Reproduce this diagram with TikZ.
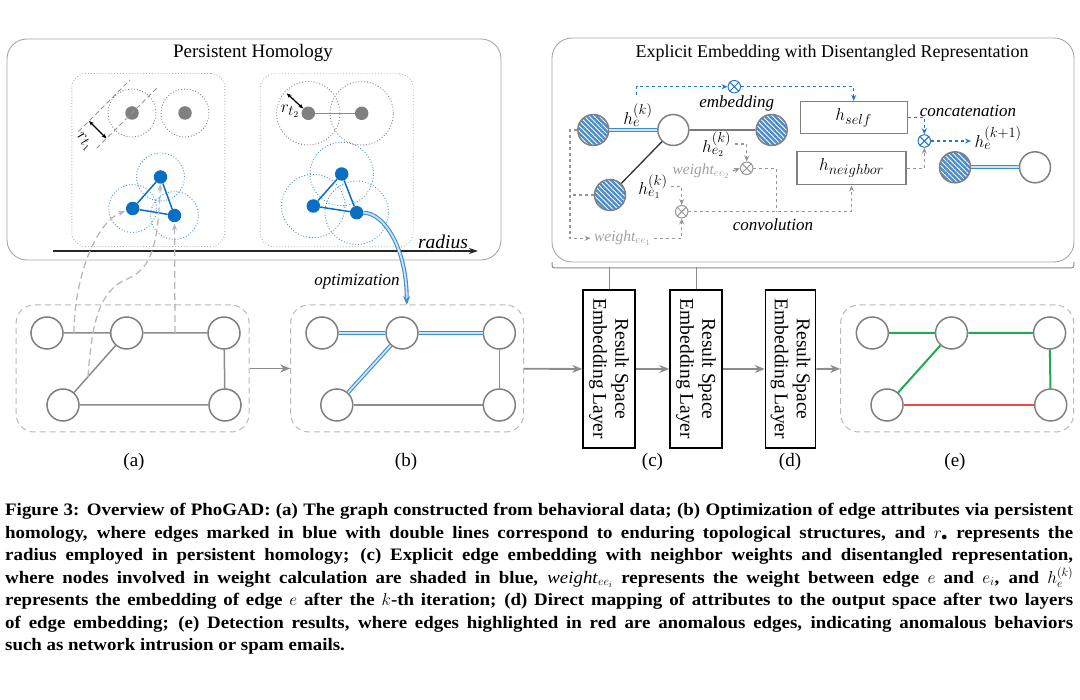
\documentclass[tikz,border=0pt]{standalone}
\usepackage{fontspec}
\setmainfont{Liberation Serif}
\newfontfamily\capfont[FakeStretch=1.08]{Liberation Serif}
\usetikzlibrary{arrows.meta,patterns.meta,calc}
\definecolor{nodegray}{RGB}{128,128,128}
\definecolor{edgegray}{RGB}{140,140,140}
\definecolor{boxgray}{RGB}{185,185,185}
\definecolor{dotblue}{RGB}{10,110,195}
\definecolor{haloblue}{RGB}{70,145,210}
\definecolor{hatchblue}{RGB}{75,140,205}
\definecolor{dblblue}{RGB}{60,140,210}
\definecolor{dblfill}{RGB}{205,228,246}
\definecolor{dashblue}{RGB}{30,120,200}
\definecolor{dashgray}{RGB}{150,150,150}
\definecolor{labelgray}{RGB}{160,160,160}
\definecolor{okgreen}{RGB}{30,170,80}
\definecolor{badred}{RGB}{240,70,70}

\begin{document}
\begin{tikzpicture}[x=1pt,y=-1pt]
\tikzset{
	panel/.style = {draw=black!35, line width=0.9pt, rounded corners=20pt},
	subpanel/.style = {draw=black!30, dotted, line width=0.9pt, rounded corners=14pt, minimum width=153pt, minimum height=173pt},
	graphbox/.style = {draw=boxgray, dash pattern=on 6pt off 4pt, line width=1pt, rounded corners=18pt, minimum width=233pt, minimum height=127pt},
	vertex/.style = {circle, draw=nodegray, line width=1.5pt, fill=white, minimum size=32pt, inner sep=0},
	emptyv/.style = {vertex, minimum size=31pt},
	shadedv/.style = {circle, draw=nodegray, line width=1.5pt, minimum size=31pt, inner sep=0, preaction={fill=hatchblue}, pattern={Lines[angle=-45,distance=3.5pt,line width=0.9pt]}, pattern color=white},
	graydot/.style = {circle, fill=nodegray, minimum size=13.5pt, inner sep=0},
	bluedot/.style = {circle, fill=dotblue, minimum size=13.5pt, inner sep=0},
	halo/.style = {dotted, line width=0.9pt},
	gline/.style = {draw=edgegray, line width=1.5pt},
	dbl/.style = {draw=dblblue, double=dblfill, double distance=1.8pt, line width=1.1pt},
	flow/.style = {draw=edgegray, line width=1.8pt, -{Stealth[length=10pt,width=8pt]}},
	layerbox/.style = {draw, line width=1.5pt, rotate=-90, minimum width=158pt, minimum height=52pt, align=center, font=\fontsize{19.5}{22}\selectfont},
	mul/.style = {circle, draw, line width=1pt, fill=white, minimum size=12.5pt, inner sep=0},
	bluedash/.style = {draw=dashblue, dashed, line width=1.1pt, -{Stealth[length=6pt,width=5pt]}},
	graydash/.style = {draw=dashgray, dashed, line width=1.1pt, -{Stealth[length=6pt,width=5pt]}},
	tracearrow/.style = {draw=boxgray, dash pattern=on 7pt off 4pt, line width=1.3pt, -{Stealth[length=7pt,width=5pt]}},
	measure/.style = {draw=black, line width=1.3pt, {Stealth[length=5pt,width=4pt]}-{Stealth[length=5pt,width=4pt]}},
	ptitle/.style = {font=\fontsize{19}{21}\selectfont},
	itnote/.style = {font=\fontsize{17}{19}\selectfont\itshape},
	mlabel/.style = {font=\fontsize{19}{21}\selectfont},
	wlabel/.style = {text=labelgray, font=\fontsize{15.5}{17}\selectfont\itshape},
	sublabel/.style = {font=\fontsize{19}{21}\selectfont},
	bracket/.style = {draw=black!45, line width=1pt}
}
\useasboundingbox (0,0) rectangle (1080,700);

% persistent homology
\node[panel, minimum width=494pt, minimum height=221pt] (ph) at (254,149.5) {};
\node[ptitle] (phtitle) at (253,53) {Persistent Homology};
\node[subpanel] (sp1) at (148.3,160) {};
\node[subpanel] (sp2) at (336.7,160.3) {};

\node[graydot] (g1) at (132,113) {};
\node[graydot] (g2) at (185,113) {};
\draw[halo, draw=nodegray] (g1) circle[radius=24pt] (g2) circle[radius=24pt];
\draw[draw=dashgray, dash pattern=on 5pt off 3pt, line width=0.8pt] (78.3,131.7) -- (130,80) (96.7,148.3) -- (156.7,88.3);
\coordinate (m1) at (89,121);
\coordinate (m2) at (106.5,138.5);
\draw[measure] (m1) -- (m2);
\node[mlabel, rotate=-45, inner sep=0] (rt1) at (84,142) {$r_{t_1}$};

\node[bluedot] (t1) at (160.5,177) {};
\node[bluedot] (t2) at (132.7,208.5) {};
\node[bluedot] (t3) at (174.5,215.5) {};
\draw[draw=dotblue, line width=1.5pt] (t1) -- (t2) -- (t3) -- (t1);
\draw[halo, draw=haloblue] (t1) circle[radius=24pt] (t2) circle[radius=24pt] (t3) circle[radius=24pt];

\node[graydot] (g3) at (308.3,113.3) {};
\node[graydot] (g4) at (361.7,113.3) {};
\draw[gline] (g3) -- (g4);
\draw[halo, draw=nodegray] (g3) circle[radius=31.7pt] (g4) circle[radius=31.7pt];
\coordinate (rt2a) at (286.7,93.3);
\draw[measure] (rt2a) -- (g3);
\node[mlabel, inner sep=0] (rt2) at (290,111) {$r_{t_2}$};

\node[bluedot] (u1) at (341.7,174) {};
\node[bluedot] (u2) at (313.3,206) {};
\node[bluedot] (u3) at (356.7,212.7) {};
\draw[draw=dotblue, line width=1.5pt] (u1) -- (u2) -- (u3) -- (u1);
\draw[halo, draw=haloblue] (u1) circle[radius=31.7pt] (u2) circle[radius=31.7pt] (u3) circle[radius=31.7pt];

\coordinate (r0) at (53,251);
\coordinate (r1) at (478,251);
\draw[draw=black!85, line width=1.8pt, -{Stealth[length=9pt,width=6pt]}] (r0) -- (r1);
\node[font=\fontsize{19.5}{21}\selectfont\itshape] (radius) at (443,242) {radius};

% graphs
\node[graphbox] (ga) at (132.6,368.5) {};
\node[vertex] (a1) at (47,333) {};
\node[vertex] (a2) at (126.7,333) {};
\node[vertex] (a3) at (224,333) {};
\node[vertex] (a4) at (63,405) {};
\node[vertex] (a5) at (225,405) {};
\draw[gline] (a1) -- (a2) -- (a3) -- (a5) -- (a4) -- (a2);

\node[graphbox] (gb) at (407.2,368.5) {};
\node[vertex] (b1) at (322,333) {};
\node[vertex] (b2) at (402,333) {};
\node[vertex] (b3) at (499.3,333) {};
\node[vertex] (b4) at (336.8,405) {};
\node[vertex] (b5) at (499.3,405) {};
\draw[dbl] (b1) -- (b2);
\draw[dbl] (b2) -- (b3);
\draw[dbl] (b2) -- (b4);
\draw[gline] (b3) -- (b5) -- (b4);

\node[graphbox] (ge) at (957.2,368.5) {};
\node[vertex] (e1) at (872.3,333) {};
\node[vertex] (e2) at (951.5,333) {};
\node[vertex] (e3) at (1049.6,333) {};
\node[vertex] (e4) at (887,405) {};
\node[vertex] (e5) at (1050.7,405) {};
\draw[draw=okgreen, line width=2pt] (e1) -- (e2) -- (e3) -- (e5) (e2) -- (e4);
\draw[draw=badred, line width=2pt] (e4) -- (e5);

\coordinate (pa1) at (74,333);
\coordinate (pa2) at (88,377);
\coordinate (pa3) at (175,333);
\draw[tracearrow, shorten >=1pt] (pa1) .. controls (74,280) and (95,222) .. (t2);
\draw[tracearrow] (pa2) .. controls (92,320) and (100,292) .. (125,280) .. controls (150,270) and (158,250) .. (t1);
\draw[tracearrow, shorten >=1pt] (pa3) -- (t3);

\coordinate (optend) at (406.7,305);
\draw[dbl, -{Stealth[length=9pt,width=7pt]}] (u3) .. controls (385,213) and (407,250) .. (optend);
\node[itnote] (opt) at (357,282) {optimization};

% layers
\node[layerbox] (l1) at (609,369) {Result Space\\Embedding Layer};
\node[layerbox] (l2) at (696,369) {Result Space\\Embedding Layer};
\node[layerbox, minimum height=50pt] (l3) at (790.5,369) {Result Space\\Embedding Layer};
\draw[flow] (ga) -- (gb);
\draw[flow] (gb) -- (l1);
\draw[flow] (l1) -- (l2);
\draw[flow] (l2) -- (l3);
\draw[flow] (l3) -- (ge);

\node[sublabel] (la) at (134,462) {(a)};
\node[sublabel] (lb) at (406,462) {(b)};
\node[sublabel] (lc) at (652.5,462) {(c)};
\node[sublabel] (ld) at (790,462) {(d)};
\node[sublabel] (le) at (955,462) {(e)};

% explicit embedding
\node[panel, minimum width=522pt, minimum height=224pt] (ee) at (813,150) {};
\node[ptitle, font=\fontsize{18}{20}\selectfont] (eetitle) at (832,53) {Explicit Embedding with Disentangled Representation};
\draw[bracket] (552,262) .. controls (552,268) .. (558,268) -- (1068,268) .. controls (1074,268) .. (1074,262);
\draw[bracket] (l1.west) -- ++(0,-22);
\draw[bracket] (l2.west) -- ++(0,-22);

\node[shadedv] (L) at (593.3,130) {};
\node[emptyv] (C) at (673.3,130) {};
\node[shadedv] (R) at (771.7,130) {};
\node[shadedv] (D) at (610,195) {};
\draw[dbl] (L) -- (C);
\draw[draw=black!80, line width=1.3pt] (C) -- (R) (C) -- (D);

\node[mlabel] (he) at (638,115) {$h_e^{(k)}$};
\node[mlabel] (he2) at (716.7,144) {$h_{e_2}^{(k)}$};
\node[mlabel] (he1) at (653,186.7) {$h_{e_1}^{(k)}$};
\node[wlabel] (wt2) at (701,171) {weight$_{ee_2}$};
\node[wlabel] (wt1) at (622.5,238.3) {weight$_{ee_1}$};
\node[itnote] (emb) at (736.7,103.3) {embedding};
\node[itnote] (conv) at (773,225) {convolution};
\node[itnote] (concat) at (968,110.7) {concatenation};

\node[mul, draw=dashblue] (o1) at (734.3,86.7) {};
\node[mul, draw=dashgray] (o2) at (746.7,168.3) {};
\node[mul, draw=dashgray] (o3) at (681.7,211.7) {};
\node[mul, draw=dashblue] (o4) at (924.3,141) {};
\foreach \m/\c in {o1/dashblue, o2/dashgray, o3/dashgray, o4/dashblue}
	\draw[\c, line width=1pt] (\m.north east) -- (\m.south west) (\m.north west) -- (\m.south east);

\node[draw=nodegray, line width=1.3pt, minimum width=107pt, minimum height=32pt, mlabel] (hself) at (853.7,117.5) {$h_{self}$};
\node[draw=nodegray, line width=1.3pt, minimum width=109pt, minimum height=33pt, mlabel] (hneigh) at (851.5,168.3) {$h_{neighbor}$};
\node[mlabel, anchor=west] (hk1) at (971,138.3) {$h_e^{(k+1)}$};

\node[shadedv] (out1) at (955,167.3) {};
\node[emptyv] (out2) at (1035,167.3) {};
\draw[dbl] (out1) -- (out2);

\coordinate (hk) at (636.7,95);
\coordinate (lc) at (570,130);
\coordinate (cj) at (776.7,211.7);
\draw[bluedash] (hk) |- (o1.west);
\draw[bluedash] (o1.east) -| (hself.north);
\draw[bluedash] (hself.east) -| (o4.north);
\draw[bluedash] (o4.east) -- (o4.east -| hk1.west);
\draw[graydash] (hneigh.east) -| (o4.south);
\draw[graydash] (L.west) -- (lc) |- (wt1.west);
\draw[graydash, -] (D.west) -- (D.west -| lc);
\draw[graydash] (wt1.east) -| (o3.south);
\draw[graydash] (he1.east) -| (o3.north);
\draw[graydash] (he2.east) -| (o2.north);
\draw[graydash] (wt2.east) -- (o2.west);
\draw[graydash, -] (o2.east) -| (cj);
\draw[graydash] (o3.east) -| (hneigh.south);

% caption
\node[anchor=north west, inner sep=0, text width=1068pt, align=justify, font=\fontsize{17.5}{22.5}\selectfont\capfont\bfseries] (cap) at (5,503) {Figure 3: Overview of PhoGAD: (a) The graph constructed from behavioral data; (b) Optimization of edge attributes via persistent\linebreak
homology, where edges marked in blue with double lines correspond to enduring topological structures, and $r_\bullet$ represents the\linebreak
radius employed in persistent homology; (c) Explicit edge embedding with neighbor weights and disentangled representation,\linebreak
where nodes involved in weight calculation are shaded in blue, \textit{\mdseries weight}$_{ee_i}$ represents the weight between edge $e$ and $e_i$, and $h_e^{(k)}$\linebreak
represents the embedding of edge $e$ after the $k$-th iteration; (d) Direct mapping of attributes to the output space after two layers\linebreak
of edge embedding; (e) Detection results, where edges highlighted in red are anomalous edges, indicating anomalous behaviors\linebreak
such as network intrusion or spam emails.};
\end{tikzpicture}
\end{document}
